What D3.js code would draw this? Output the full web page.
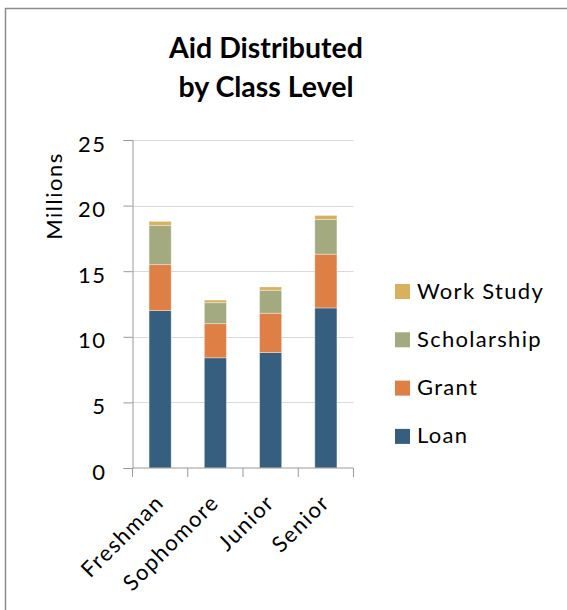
<!DOCTYPE html>
<html>
<head>
<meta charset="utf-8">
<script src="https://cdn.jsdelivr.net/npm/d3@7"></script>
<style>
  html, body { margin: 0; padding: 0; background: #fff; }
  svg text { font-family: Lato, "Open Sans", sans-serif; fill: #000; }
</style>
</head>
<body>
<svg id="chart" width="567" height="610"></svg>
<script>
// Aid by class level, in millions of dollars
const classLevels = ["Freshman", "Sophomore", "Junior", "Senior"];
const loan        = [12.0, 8.4, 8.8, 12.2];
const grant       = [3.5, 2.6, 3.0, 4.1];
const scholarship = [3.0, 1.6, 1.75, 2.65];
const workStudy   = [0.3, 0.2, 0.25, 0.3];
const seriesNames = ["Loan", "Grant", "Scholarship", "Work Study"];
const seriesColors = ["#365E7F", "#DE7F46", "#A4AA7F", "#D9B05D"];
const yTicks = [0, 5, 10, 15, 20, 25];

const svg = d3.select("#chart");

// outer frame (left and top edges only)
svg.append("path")
  .attr("d", "M5.5,610 L5.5,8.5 L567,8.5")
  .attr("fill", "none").attr("stroke", "#8c8c8c").attr("stroke-width", 1.5);

// title
const title = svg.append("text").attr("text-anchor", "middle")
  .style("font-size", "28.5px").style("font-weight", "bold");
title.append("tspan").attr("x", 266).attr("y", 58).text("Aid Distributed");
title.append("tspan").attr("x", 266).attr("y", 97).text("by Class Level");

const plot = { left: 132.5, right: 353.5, top: 140, bottom: 468 };

const rows = classLevels.map((c, i) => ({
  level: c,
  "Loan": loan[i], "Grant": grant[i], "Scholarship": scholarship[i], "Work Study": workStudy[i]
}));
const stacked = d3.stack().keys(seriesNames)(rows);

const x = d3.scaleBand().domain(classLevels).range([plot.left, plot.right])
  .paddingInner(0.6).paddingOuter(0.3);
const y = d3.scaleLinear().domain([0, 25]).range([plot.bottom, plot.top]);
const color = d3.scaleOrdinal().domain(seriesNames).range(seriesColors);

// horizontal gridlines
svg.append("g").selectAll("line").data(yTicks.filter(t => t > 0)).join("line")
  .attr("x1", plot.left).attr("x2", plot.right)
  .attr("y1", d => Math.round(y(d)) + 0.5).attr("y2", d => Math.round(y(d)) + 0.5)
  .attr("stroke", "#d9d9d9").attr("stroke-width", 1);

// stacked bars
svg.append("g").selectAll("g").data(stacked).join("g")
  .attr("fill", d => color(d.key))
  .selectAll("rect").data(d => d).join("rect")
  .attr("x", d => x(d.data.level))
  .attr("width", x.bandwidth())
  .attr("y", d => y(d[1]))
  .attr("height", d => y(d[0]) - y(d[1]))
  .attr("stroke", "rgba(255,255,255,0.45)").attr("stroke-width", 0.8);

// y axis
const yAxis = svg.append("g").attr("transform", `translate(${plot.left},0)`)
  .call(d3.axisLeft(y).tickValues(yTicks).tickSize(9).tickPadding(17));
yAxis.select(".domain").attr("stroke", "#9a9a9a");
yAxis.selectAll(".tick line").attr("stroke", "#9a9a9a");
yAxis.selectAll(".tick text").style("font-size", "22px").style("font-family", "Lato, sans-serif")
  .style("letter-spacing", "1.5px")
  .attr("fill", "#000").attr("dy", "0.5em");

// x axis with ticks at category boundaries
const xAxisG = svg.append("g");
xAxisG.append("line")
  .attr("x1", plot.left).attr("x2", plot.right)
  .attr("y1", plot.bottom).attr("y2", plot.bottom)
  .attr("stroke", "#9a9a9a");
const boundaries = d3.range(classLevels.length + 1).map(i => plot.left + i * (plot.right - plot.left) / classLevels.length);
xAxisG.selectAll("line.tk").data(boundaries).join("line").attr("class", "tk")
  .attr("x1", d => d).attr("x2", d => d)
  .attr("y1", plot.bottom).attr("y2", plot.bottom + 9)
  .attr("stroke", "#9a9a9a");
xAxisG.selectAll("text").data(classLevels).join("text")
  .attr("text-anchor", "end")
  .attr("transform", d => `translate(${x(d) + x.bandwidth() / 2 + 5},504) rotate(-45)`)
  .style("font-size", "22px").style("letter-spacing", "1.5px")
  .text(d => d);

// y axis title
svg.append("text").attr("text-anchor", "middle")
  .attr("transform", "translate(62,196) rotate(-90)")
  .style("font-size", "22px").style("letter-spacing", "1.5px").text("Millions");

// legend (top to bottom: Work Study, Scholarship, Grant, Loan)
const legendItems = seriesNames.slice().reverse();
const legend = svg.append("g").selectAll("g").data(legendItems).join("g")
  .attr("transform", (d, i) => `translate(395,${284 + i * 48.3})`);
legend.append("rect").attr("width", 15).attr("height", 15).attr("fill", d => color(d));
legend.append("text").attr("x", 22).attr("y", 14.5)
  .style("font-size", "22px").style("letter-spacing", "1.3px").text(d => d);
</script>
</body>
</html>
